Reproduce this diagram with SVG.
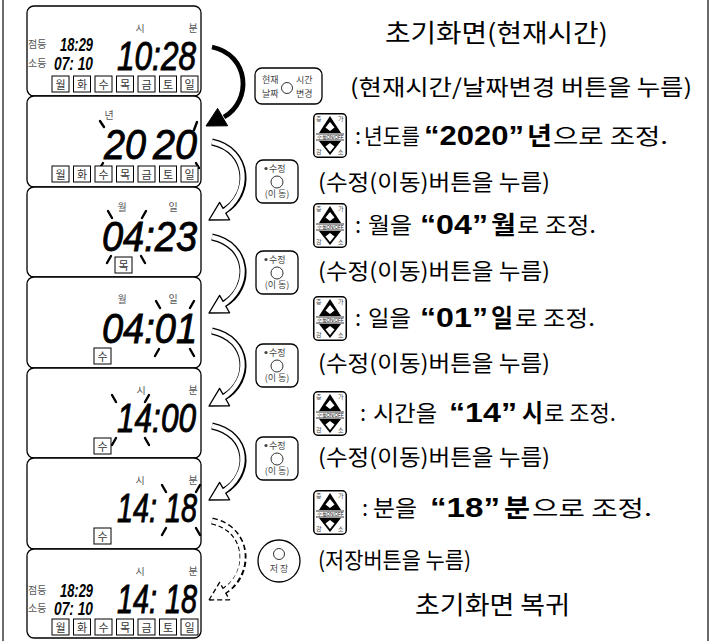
<svg xmlns="http://www.w3.org/2000/svg" width="711" height="641" viewBox="0 0 711 641">
<style>
.frame{stroke:#6a6a6a;stroke-width:2;fill:none}
.lcd{fill:#fff;stroke:#000;stroke-width:1.3}
.lbl{font-family:"Noto Sans CJK KR","Noto Sans",sans-serif;font-size:10px;fill:#555;text-anchor:middle}
.sm{font-family:"Noto Sans CJK KR","Noto Sans",sans-serif;font-size:10px;fill:#555}
.seg{font-family:"Liberation Sans",Arial,sans-serif;font-style:italic;fill:#000;stroke:#000;stroke-width:0.9}
.segs{font-family:"Liberation Sans",Arial,sans-serif;font-weight:bold;font-style:italic;fill:#000}
.dbox{fill:#fff;stroke:#000;stroke-width:1}
.dt{font-family:"Noto Sans CJK KR",sans-serif;font-size:11px;fill:#333;text-anchor:middle}
.tick{stroke:#000;stroke-width:2.4;stroke-linecap:round}
.k{font-family:"Noto Sans CJK KR","Noto Sans",sans-serif;font-size:22px;fill:#000}
.kt{font-family:"Noto Sans CJK KR","Noto Sans",sans-serif;font-size:25px;fill:#000}
.kb{font-family:"Noto Sans CJK KR","Noto Sans",sans-serif;font-size:25px;font-weight:bold;fill:#000}
.nb{font-family:"Liberation Sans",Arial,sans-serif;font-size:28px;font-weight:bold;fill:#000}
.btn{fill:#fff;stroke:#000;stroke-width:1.3}
.bt{font-family:"Noto Sans CJK KR",sans-serif;font-size:9px;fill:#444}
.btc{font-family:"Noto Sans CJK KR",sans-serif;font-size:9px;fill:#444;text-anchor:middle}
.tiny{font-family:"Noto Sans CJK KR",sans-serif;font-size:6px;fill:#444}
.tiny2{font-family:"Liberation Sans",sans-serif;font-size:4.5px;fill:#000;text-anchor:middle}
.ao{fill:none;stroke:#000;stroke-width:7}
.ai{fill:none;stroke:#fff;stroke-width:4.4}
.ho{fill:#fff;stroke:#000;stroke-width:1.3;stroke-linejoin:round}
.dash{stroke-dasharray:5 3}
</style>
<defs>
<g id="days">
<rect class="dbox" x="52" y="0" width="17" height="16"/><text class="dt" x="60.5" y="12.5">월</text>
<rect class="dbox" x="73.5" y="0" width="17" height="16"/><text class="dt" x="82" y="12.5">화</text>
<rect class="dbox" x="95" y="0" width="17" height="16"/><text class="dt" x="103.5" y="12.5">수</text>
<rect class="dbox" x="116.5" y="0" width="17" height="16"/><text class="dt" x="125" y="12.5">목</text>
<rect class="dbox" x="138" y="0" width="17" height="16"/><text class="dt" x="146.5" y="12.5">금</text>
<rect class="dbox" x="159.5" y="0" width="17" height="16"/><text class="dt" x="168" y="12.5">토</text>
<rect class="dbox" x="181" y="0" width="17" height="16"/><text class="dt" x="189.5" y="12.5">일</text>
</g>
<g id="updown">
<rect x="0.75" y="0.75" width="32.5" height="43.5" rx="4" fill="#fff" stroke="#000" stroke-width="1.5"/>
<text class="tiny" x="3" y="8">증</text><text class="tiny" x="25" y="8">가</text>
<polygon points="17,3 6,20 28,20" fill="#000"/>
<polygon points="17,9 21.5,14.5 17,18 12.5,14.5" fill="#fff"/>
<line x1="3" y1="21" x2="31" y2="21" stroke="#000" stroke-width="0.8"/>
<text class="tiny2" x="17" y="25.6">수동ON/OFF</text>
<line x1="3" y1="27" x2="31" y2="27" stroke="#000" stroke-width="0.8"/>
<polygon points="6,28 28,28 17,42" fill="#000"/>
<polygon points="17,30 21.5,33.5 17,39 12.5,33.5" fill="#fff"/>
<text class="tiny" x="3" y="41">감</text><text class="tiny" x="25" y="41">소</text>
</g>
<g id="edit">
<rect class="btn" x="0" y="0" width="42" height="43" rx="7"/>
<circle cx="10" cy="8.5" r="1.6" fill="#444"/>
<text class="bt" x="13" y="12">수정</text>
<circle cx="21" cy="22" r="6" fill="#fff" stroke="#333" stroke-width="1"/>
<text class="btc" x="21" y="37">(이 동)</text>
</g>
</defs>

<line class="frame" x1="3" y1="0" x2="3" y2="641"/>
<line class="frame" x1="708" y1="0" x2="708" y2="641"/>

<g id="lcd1">
<rect class="lcd" x="27" y="6" width="174" height="90" rx="7"/>
<text class="lbl" x="140" y="32">시</text><text class="lbl" x="193" y="32">분</text>
<text class="sm" x="28" y="48">점등</text><text class="sm" x="28" y="67">소등</text>
<text class="segs" x="60" y="51" font-size="18" textLength="33" lengthAdjust="spacingAndGlyphs">18:29</text>
<text class="segs" x="54" y="70" font-size="18" textLength="39" lengthAdjust="spacingAndGlyphs">07: 10</text>
<text class="seg" x="117" y="70" font-size="40" textLength="79" lengthAdjust="spacingAndGlyphs">10:28</text>
<use href="#days" y="76"/>
</g>

<g id="lcd2">
<rect class="lcd" x="27" y="96" width="174" height="91" rx="7"/>
<text class="lbl" x="109" y="119">년</text>
<text class="seg" x="104" y="159" font-size="42" textLength="42" lengthAdjust="spacingAndGlyphs">20</text>
<text class="seg" x="153" y="159" font-size="42" textLength="44" lengthAdjust="spacingAndGlyphs">20</text>
<line class="tick" x1="100" y1="121" x2="104" y2="127"/>
<line class="tick" x1="197" y1="122" x2="194" y2="130"/>
<line class="tick" x1="103" y1="163" x2="100" y2="168"/>
<line class="tick" x1="196" y1="163" x2="199" y2="168"/>
<use href="#days" y="166"/>
</g>

<g id="lcd3">
<rect class="lcd" x="27" y="187" width="174" height="90" rx="7"/>
<text class="lbl" x="122" y="211">월</text><text class="lbl" x="173" y="211">일</text>
<text class="seg" x="102" y="251" font-size="42" textLength="95" lengthAdjust="spacingAndGlyphs">04:23</text>
<line class="tick" x1="108" y1="211" x2="112" y2="218"/>
<line class="tick" x1="146" y1="211" x2="142" y2="218"/>
<line class="tick" x1="111" y1="256" x2="107" y2="263"/>
<line class="tick" x1="141" y1="256" x2="145" y2="263"/>
<rect class="dbox" x="115" y="257" width="17" height="16"/><text class="dt" x="123.5" y="270">목</text>
</g>

<g id="lcd4">
<rect class="lcd" x="27" y="277" width="174" height="91" rx="7"/>
<text class="lbl" x="122" y="303">월</text><text class="lbl" x="173" y="303">일</text>
<text class="seg" x="102" y="343" font-size="42" textLength="95" lengthAdjust="spacingAndGlyphs">04:01</text>
<line class="tick" x1="156" y1="301" x2="160" y2="308"/>
<line class="tick" x1="194" y1="301" x2="190" y2="308"/>
<line class="tick" x1="159" y1="349" x2="155" y2="356"/>
<line class="tick" x1="190" y1="349" x2="194" y2="356"/>
<rect class="dbox" x="94" y="348" width="17" height="16"/><text class="dt" x="102.5" y="361">수</text>
</g>

<g id="lcd5">
<rect class="lcd" x="27" y="368" width="174" height="90" rx="7"/>
<text class="lbl" x="141" y="394">시</text><text class="lbl" x="193" y="394">분</text>
<text class="seg" x="117" y="432" font-size="40" textLength="79" lengthAdjust="spacingAndGlyphs">14:00</text>
<line class="tick" x1="112" y1="395" x2="116" y2="402"/>
<line class="tick" x1="149" y1="395" x2="145" y2="402"/>
<line class="tick" x1="116" y1="438" x2="112" y2="445"/>
<line class="tick" x1="145" y1="438" x2="149" y2="445"/>
<rect class="dbox" x="94" y="438" width="17" height="16"/><text class="dt" x="102.5" y="451">수</text>
</g>

<g id="lcd6">
<rect class="lcd" x="27" y="458" width="174" height="91" rx="7"/>
<text class="lbl" x="140" y="484">시</text><text class="lbl" x="193" y="484">분</text>
<text class="seg" x="117" y="522" font-size="40" textLength="80" lengthAdjust="spacingAndGlyphs">14: 18</text>
<line class="tick" x1="162" y1="485" x2="166" y2="492"/>
<line class="tick" x1="200" y1="485" x2="196" y2="492"/>
<line class="tick" x1="166" y1="528" x2="162" y2="535"/>
<line class="tick" x1="196" y1="528" x2="200" y2="535"/>
<rect class="dbox" x="94" y="528" width="17" height="16"/><text class="dt" x="102.5" y="541">수</text>
</g>

<g id="lcd7">
<rect class="lcd" x="27" y="549" width="174" height="89" rx="7"/>
<text class="lbl" x="140" y="575">시</text><text class="lbl" x="193" y="575">분</text>
<text class="sm" x="28" y="594">점등</text><text class="sm" x="28" y="612">소등</text>
<text class="segs" x="60" y="597" font-size="18" textLength="33" lengthAdjust="spacingAndGlyphs">18:29</text>
<text class="segs" x="54" y="615" font-size="18" textLength="39" lengthAdjust="spacingAndGlyphs">07: 10</text>
<text class="seg" x="117" y="613" font-size="40" textLength="80" lengthAdjust="spacingAndGlyphs">14: 18</text>
<use href="#days" y="619"/>
</g>

<g id="connectors">
<path d="M212 47 C250 55 252 101 224 117" fill="none" stroke="#000" stroke-width="4.8"/>
<polygon points="206,126 217.6,108.4 227.6,125.8" fill="#000" stroke="#000" stroke-width="1" stroke-linejoin="round"/>

<path class="ao" d="M212 142 C250 150 252 195 224 211"/>
<polygon class="ho" points="209,220 219.6,202.4 229.6,219.8"/>
<path class="ai" d="M212 142 C250 150 252 195 221 213"/>

<path class="ao" d="M212 237 C250 245 252 288 224 304"/>
<polygon class="ho" points="209,313 219.6,295.4 229.6,312.8"/>
<path class="ai" d="M212 237 C250 245 252 288 221 306"/>

<path class="ao" d="M212 331 C250 339 252 381 224 397"/>
<polygon class="ho" points="209,406 219.6,388.4 229.6,405.8"/>
<path class="ai" d="M212 331 C250 339 252 381 221 399"/>

<path class="ao" d="M212 426 C250 434 252 475 224 491"/>
<polygon class="ho" points="209,500 219.6,482.4 229.6,499.8"/>
<path class="ai" d="M212 426 C250 434 252 475 221 493"/>

<path class="ao dash" d="M212 521 C250 529 252 575 224 591"/>
<polygon class="ho dash" points="209,600 219.6,582.4 229.6,599.8"/>
<path class="ai" d="M212 521 C250 529 252 575 221 593"/>
</g>

<g id="title">
<text class="kt" x="385" y="42" textLength="223" lengthAdjust="spacingAndGlyphs">초기화면(현재시간)</text>
</g>

<g id="btn-now">
<rect class="btn" x="255" y="68" width="67" height="36" rx="7"/>
<text class="bt" x="262" y="83">현재</text><text class="bt" x="262" y="97">날짜</text>
<circle cx="287" cy="88" r="5.5" fill="#fff" stroke="#333" stroke-width="1"/>
<text class="bt" x="296" y="83">시간</text><text class="bt" x="296" y="97">변경</text>
</g>
<g id="step1"><text class="k" x="350" y="95" textLength="342" lengthAdjust="spacingAndGlyphs">(현재시간/날짜변경 버튼을 누름)</text></g>

<g id="ud1"><use href="#updown" x="313" y="113"/></g>
<g id="step2">
<text class="k" x="355" y="144">:</text>
<text class="k" x="364" y="144" textLength="56" lengthAdjust="spacingAndGlyphs">년도를</text>
<text class="nb" x="424" y="145" textLength="100" lengthAdjust="spacingAndGlyphs">“2020”</text>
<text class="kb" x="527" y="145" textLength="25" lengthAdjust="spacingAndGlyphs">년</text>
<text class="k" x="553" y="144" textLength="115" lengthAdjust="spacingAndGlyphs">으로 조정.</text>
</g>

<g id="ed1"><use href="#edit" x="256" y="160"/></g>
<g id="step3"><text class="k" x="318" y="190" textLength="232" lengthAdjust="spacingAndGlyphs">(수정(이동)버튼을 누름)</text></g>

<g id="ud2"><use href="#updown" x="313" y="203"/></g>
<g id="step4">
<text class="k" x="355" y="233">:</text>
<text class="k" x="368" y="233" textLength="44" lengthAdjust="spacingAndGlyphs">월을</text>
<text class="nb" x="420" y="234" textLength="68" lengthAdjust="spacingAndGlyphs">“04”</text>
<text class="kb" x="491" y="234" textLength="25" lengthAdjust="spacingAndGlyphs">월</text>
<text class="k" x="517" y="233" textLength="79" lengthAdjust="spacingAndGlyphs">로 조정.</text>
</g>

<g id="ed2"><use href="#edit" x="256" y="251"/></g>
<g id="step5"><text class="k" x="318" y="279" textLength="232" lengthAdjust="spacingAndGlyphs">(수정(이동)버튼을 누름)</text></g>

<g id="ud3"><use href="#updown" x="313" y="296"/></g>
<g id="step6">
<text class="k" x="355" y="326">:</text>
<text class="k" x="368" y="326" textLength="43" lengthAdjust="spacingAndGlyphs">일을</text>
<text class="nb" x="420" y="327" textLength="68" lengthAdjust="spacingAndGlyphs">“01”</text>
<text class="kb" x="491" y="327" textLength="22" lengthAdjust="spacingAndGlyphs">일</text>
<text class="k" x="515" y="326" textLength="80" lengthAdjust="spacingAndGlyphs">로 조정.</text>
</g>

<g id="ed3"><use href="#edit" x="256" y="344"/></g>
<g id="step7"><text class="k" x="318" y="371" textLength="232" lengthAdjust="spacingAndGlyphs">(수정(이동)버튼을 누름)</text></g>

<g id="ud4"><use href="#updown" x="313" y="391"/></g>
<g id="step8">
<text class="k" x="360" y="421">:</text>
<text class="k" x="373" y="421" textLength="64" lengthAdjust="spacingAndGlyphs">시간을</text>
<text class="nb" x="449" y="422" textLength="68" lengthAdjust="spacingAndGlyphs">“14”</text>
<text class="kb" x="522" y="422" textLength="21" lengthAdjust="spacingAndGlyphs">시</text>
<text class="k" x="544" y="421" textLength="72" lengthAdjust="spacingAndGlyphs">로 조정.</text>
</g>

<g id="ed4"><use href="#edit" x="256" y="437"/></g>
<g id="step9"><text class="k" x="318" y="465" textLength="232" lengthAdjust="spacingAndGlyphs">(수정(이동)버튼을 누름)</text></g>

<g id="ud5"><use href="#updown" x="313" y="490"/></g>
<g id="step10">
<text class="k" x="362" y="516">:</text>
<text class="k" x="373" y="516" textLength="44" lengthAdjust="spacingAndGlyphs">분을</text>
<text class="nb" x="430" y="517" textLength="70" lengthAdjust="spacingAndGlyphs">“18”</text>
<text class="kb" x="504" y="517" textLength="26" lengthAdjust="spacingAndGlyphs">분</text>
<text class="k" x="532" y="516" textLength="120" lengthAdjust="spacingAndGlyphs">으로 조정.</text>
</g>

<g id="btn-save">
<circle cx="279" cy="561" r="21" fill="#fff" stroke="#000" stroke-width="1.3"/>
<circle cx="279" cy="554" r="5.5" fill="#fff" stroke="#333" stroke-width="1"/>
<text class="btc" x="279" y="572">저 장</text>
</g>
<g id="step11"><text class="k" x="318" y="568" textLength="153" lengthAdjust="spacingAndGlyphs">(저장버튼을 누름)</text></g>

<g id="end"><text class="kt" x="415" y="614" textLength="155" lengthAdjust="spacingAndGlyphs">초기화면 복귀</text></g>
</svg>
